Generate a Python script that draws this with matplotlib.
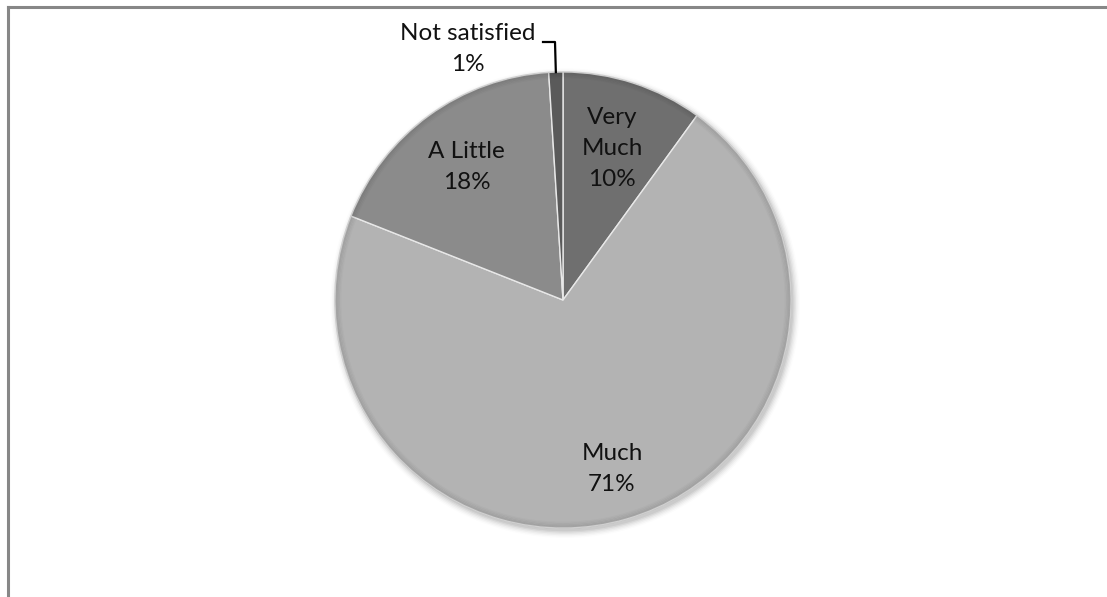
import numpy as np
import matplotlib
matplotlib.use("Agg")
import matplotlib.pyplot as plt
from matplotlib.patches import Circle
from matplotlib.lines import Line2D

categories = ["Very Much", "Much", "A Little", "Not satisfied"]
values = [10, 71, 18, 1]
label_texts = ["Very\nMuch\n10%", "Much\n71%", "A Little\n18%", "Not satisfied\n1%"]
colors = ["#6f6f6f", "#b3b3b3", "#8b8b8b", "#5a5a5a"]

plt.rcParams['font.family'] = ['Lato', 'DejaVu Sans']

W, H = 1107, 597
fig = plt.figure(figsize=(W / 100, H / 100), dpi=100)
fig.patch.set_facecolor("white")

cx, cy, R = 563, 300, 228
ax = fig.add_axes([(cx - R) / W, (H - cy - R) / H, 2 * R / W, 2 * R / H])
ax.set_xlim(-1, 1)
ax.set_ylim(-1, 1)
ax.axis("off")

# soft shadow
for i, a in enumerate(np.linspace(0.06, 0.012, 6)):
    ax.add_patch(Circle((0.010, -0.014), 1.0 + 0.006 * i, color="black", alpha=a,
                        lw=0, zorder=0, clip_on=False))

wedges, _ = ax.pie(values, colors=colors, startangle=90, counterclock=False,
                   radius=1.0, wedgeprops=dict(edgecolor="#e8e8e8", linewidth=1.0,
                                               clip_on=False),
                   frame=False)
ax.set_xlim(-1, 1)
ax.set_ylim(-1, 1)

# rim darkening (bevel)
for i, a in enumerate(np.linspace(0.10, 0.0, 6)):
    ax.add_patch(Circle((0, 0), 1.0 - 0.006 * i, fill=False, edgecolor="black",
                        alpha=a, lw=1.2, zorder=5, clip_on=False))

dists = [0.70, 0.77, 0.72]
fs = 17.5
ls = 1.58
for w, txt, d in zip(wedges[:3], label_texts[:3], dists):
    ang = np.deg2rad((w.theta1 + w.theta2) / 2)
    ax.text(d * np.cos(ang), d * np.sin(ang), txt, ha="center", va="center",
            fontsize=fs, color="#111111", linespacing=ls, zorder=10)

# Not satisfied label with leader line
w = wedges[3]
ang = np.deg2rad((w.theta1 + w.theta2) / 2)
ex, ey = np.cos(ang), np.sin(ang)
tx, ty = (468 - cx) / R, (cy - 49) / R
ax.text(tx, ty, label_texts[3], ha="center", va="center", fontsize=fs,
        color="#111111", linespacing=ls, zorder=10, clip_on=False)
lx0, ly = (543 - cx) / R, (cy - 42) / R
ax.add_line(Line2D([lx0, (555 - cx) / R, ex], [ly, ly, ey],
                   color="black", lw=1.6, clip_on=False, zorder=10))

# outer border (top and left visible)
fig.add_artist(Line2D([8 / W, 1.0], [(H - 7) / H, (H - 7) / H], color="#878787",
                      lw=2.2, transform=fig.transFigure))
fig.add_artist(Line2D([8 / W, 8 / W], [0, (H - 7) / H], color="#878787",
                      lw=2.2, transform=fig.transFigure))

fig.savefig("out.png", dpi=100, facecolor="white")
